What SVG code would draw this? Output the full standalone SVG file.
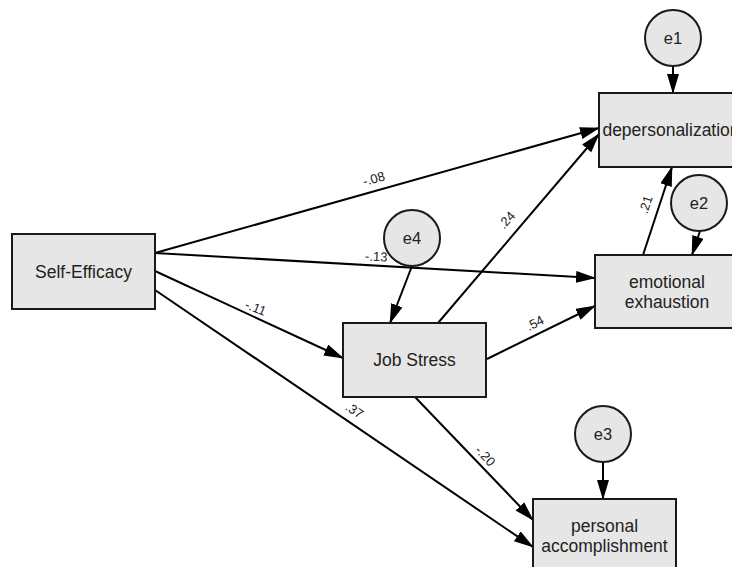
<svg xmlns="http://www.w3.org/2000/svg" width="732" height="567" viewBox="0 0 732 567">
<style>
.box{fill:#e6e6e6;stroke:#1a1a1a;stroke-width:2}
.circ{fill:#e6e6e6;stroke:#1a1a1a;stroke-width:2}
.nt{font-family:"Liberation Sans",Arial,sans-serif;font-size:17.5px;fill:#222;text-anchor:middle}
.et{font-family:"Liberation Sans",Arial,sans-serif;font-size:16.5px;fill:#222;text-anchor:middle}
.lab{font-family:"Liberation Sans",Arial,sans-serif;font-size:13px;fill:#222;text-anchor:middle}
.edge{stroke:#000;stroke-width:2;fill:none;marker-end:url(#ah)}
</style>
<defs>
<marker id="ah" markerUnits="userSpaceOnUse" markerWidth="20" markerHeight="14" refX="19" refY="6" orient="auto">
<path d="M0,0 L20,6 L0,12 z" fill="#000"/>
</marker>
</defs>
<rect width="732" height="567" fill="#fff"/>
<g id="connectors">
<line class="edge" x1="155" y1="253" x2="599" y2="128"/>
<line class="edge" x1="155" y1="253" x2="595" y2="278"/>
<line class="edge" x1="155" y1="271" x2="343" y2="358"/>
<line class="edge" x1="155" y1="290" x2="533" y2="547"/>
<line class="edge" x1="438" y1="323" x2="599" y2="134"/>
<line class="edge" x1="487" y1="359" x2="595" y2="306"/>
<line class="edge" x1="415" y1="397" x2="533" y2="520"/>
<line class="edge" x1="643" y1="255" x2="672" y2="167"/>
<line class="edge" x1="673" y1="66" x2="673" y2="93"/>
<line class="edge" x1="700" y1="231" x2="692" y2="255"/>
<line class="edge" x1="412" y1="266" x2="390" y2="323"/>
<line class="edge" x1="603" y1="462" x2="603" y2="499"/>
<text class="lab" transform="translate(375,183) rotate(-15.6)">-.08</text>
<text class="lab" transform="translate(376,261) rotate(3)">-.13</text>
<text class="lab" transform="translate(254,312) rotate(22)">-.11</text>
<text class="lab" transform="translate(352,414) rotate(34)">.37</text>
<text class="lab" transform="translate(510,223) rotate(-48)">.24</text>
<text class="lab" transform="translate(537,327) rotate(-27)">.54</text>
<text class="lab" transform="translate(482,459) rotate(47)">-.20</text>
<text class="lab" transform="translate(650,206) rotate(-72)">.21</text>
</g>
<g id="self-efficacy">
<rect class="box" x="12" y="234" width="143" height="75"/>
<text class="nt" x="83.5" y="277.5">Self-Efficacy</text>
</g>
<g id="job-stress">
<rect class="box" x="343" y="323" width="143" height="74"/>
<text class="nt" x="414.5" y="366">Job Stress</text>
</g>
<g id="depersonalization">
<rect class="box" x="599" y="93" width="144" height="74"/>
<text class="nt" x="671" y="136">depersonalization</text>
</g>
<g id="emotional-exhaustion">
<rect class="box" x="595" y="255" width="144" height="73"/>
<text class="nt" x="667" y="288">emotional</text>
<text class="nt" x="667" y="307.5">exhaustion</text>
</g>
<g id="personal-accomplishment">
<rect class="box" x="533" y="499" width="143" height="74"/>
<text class="nt" x="604.5" y="532">personal</text>
<text class="nt" x="604.5" y="551.5">accomplishment</text>
</g>
<g id="e1">
<circle class="circ" cx="673" cy="38" r="28"/>
<text class="et" x="673" y="44">e1</text>
</g>
<g id="e2">
<circle class="circ" cx="699" cy="203" r="28"/>
<text class="et" x="699" y="209">e2</text>
</g>
<g id="e3">
<circle class="circ" cx="603" cy="434" r="28"/>
<text class="et" x="603" y="440">e3</text>
</g>
<g id="e4">
<circle class="circ" cx="412" cy="238" r="28"/>
<text class="et" x="412" y="244">e4</text>
</g>
</svg>
